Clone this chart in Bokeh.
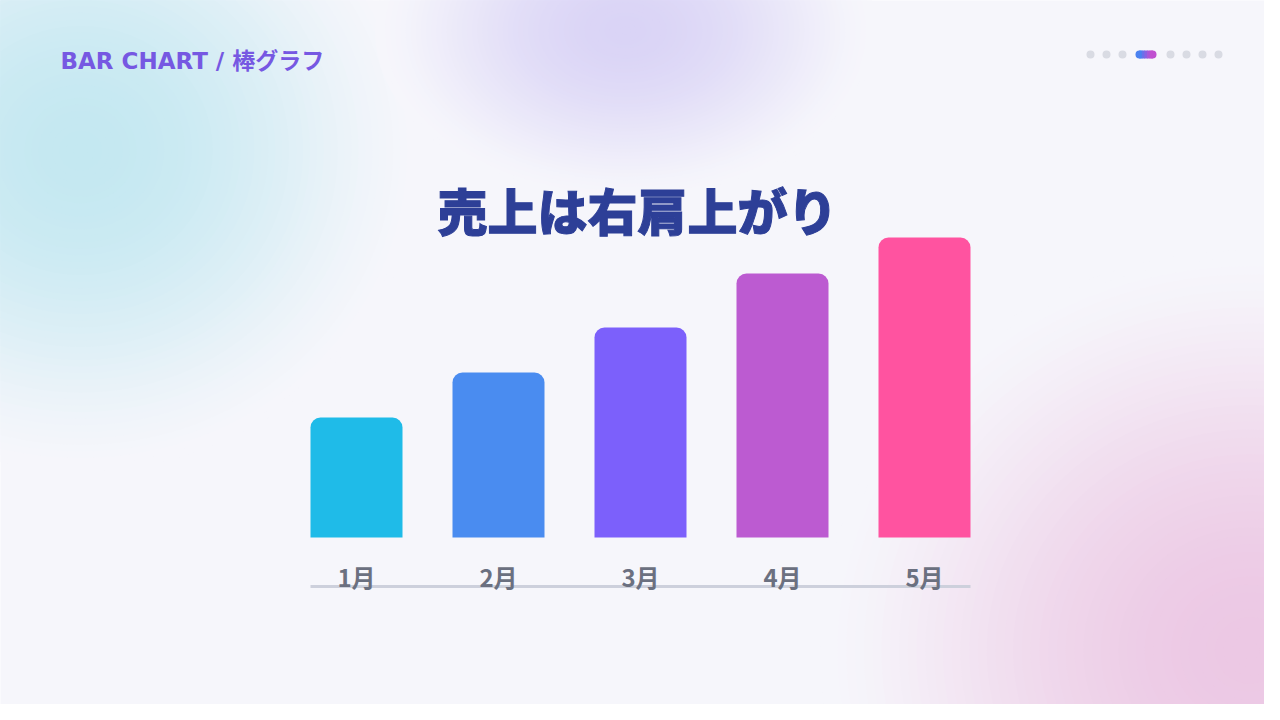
import numpy as np
from bokeh.plotting import figure
from bokeh.models import Range1d, ColumnDataSource
from bokeh.core.properties import value
from bokeh.embed import file_html
from bokeh.resources import INLINE

# ---- data ----
months = ["1月", "2月", "3月", "4月", "5月"]
sales = [40, 55, 70, 88, 100]
bar_colors = ["#1fbbe8", "#4a8cf0", "#7c60fb", "#bc5bd1", "#ff53a0"]
header_text = "BAR CHART / 棒グラフ"
title_text = "売上は右肩上がり"

# ---- layout (reference px) ----
W, H = 1264, 704
X0 = 356.0      # x of first bar centre
PX_X = 142.0    # px per category
BASE = 537.0    # y of bar baseline
PX_Y = 3.0      # px per value unit
BG = (246, 246, 251)

def sx(px):
    return (px - X0) / PX_X

def sy(py):
    return (BASE - py) / PX_Y

p = figure(width=W, height=H, output_backend="svg", toolbar_location=None,
           x_range=Range1d(sx(0), sx(W)), y_range=Range1d(sy(H), sy(0)),
           x_axis_location=None, y_axis_location=None, min_border=0,
           background_fill_color="#f6f6fb", border_fill_color="#f6f6fb",
           outline_line_color=None, tools="")
p.grid.visible = False

# ---- soft background blobs (opaque concentric ellipses) ----
def blob(cx, cy, rx, ry, peak, layers=50):
    for k in range(layers):
        r = 1.0 - k / (layers - 1)     # 1 outer .. 0 inner
        f = (1 - r * r) ** 1.6
        col = tuple(int(round(BG[j] + (peak[j] - BG[j]) * f)) for j in range(3))
        p.ellipse([sx(cx)], [sy(cy)], width=2 * rx * r + 1, height=2 * ry * r + 1,
                  width_units="screen", height_units="screen",
                  fill_color="#%02x%02x%02x" % col, line_color=None)

blob(80, 150, 340, 320, (196, 232, 241))
blob(625, 30, 250, 170, (218, 212, 246))
blob(1250, 650, 430, 400, (236, 200, 228))

# ---- bars ----
idx = list(range(len(months)))
src = ColumnDataSource(dict(x=idx, top=sales, color=bar_colors, label=months))
bw = 92 / PX_X
p.vbar(x="x", top="top", bottom=0, width=bw, fill_color="color", line_color=None,
       border_radius=[10, 10, 0, 0], source=src)

# baseline rule
p.line([idx[0] - bw / 2, idx[-1] + bw / 2], [sy(586), sy(586)],
       line_color="#cdd0dc", line_width=3)

# month labels
p.text(x="x", y=0, text="label", source=src, y_offset=39,
       text_align="center", text_baseline="middle",
       text_font=value("Noto Sans CJK JP"), text_font_style="bold",
       text_font_size="24px", text_color="#6b7080")

# ---- title ----
p.text([sx(637)], [sy(208)], text=[title_text], text_align="center",
       text_baseline="middle",
       text_font=value("Noto Sans CJK JP Black, Noto Sans CJK JP"),
       text_font_style="bold", text_font_size="50px", text_color="#2d3f97",
       text_outline_color="#2d3f97")

# ---- header ----
p.text([sx(60)], [sy(60)], text=[header_text], text_align="left",
       text_baseline="middle", text_font=value("DejaVu Sans, Noto Sans CJK JP"),
       text_font_style="bold", text_font_size="23px", text_color="#7658e2")

# ---- page dots ----
dot_x = [1090, 1106, 1122, 1170, 1186, 1202, 1218]
p.scatter([sx(v) for v in dot_x], [sy(54)] * len(dot_x), size=8, marker="circle",
          fill_color="#d9dbe3", line_color=None)
# gradient pill
pill_cols = ["#4b82f0", "#6a70ea", "#8a62e2", "#a858d8", "#c050d0"]
n = len(pill_cols)
px0, px1 = 1135, 1156
p.scatter([sx(px0 + 4)], [sy(54)], size=8, marker="circle", fill_color=pill_cols[0], line_color=None)
p.scatter([sx(px1 - 4)], [sy(54)], size=8, marker="circle", fill_color=pill_cols[-1], line_color=None)
edges = np.linspace(px0 + 4, px1 - 4, n + 1)
for i, c in enumerate(pill_cols):
    p.quad(left=sx(edges[i]) - 0.002, right=sx(edges[i + 1]) + 0.002,
           bottom=sy(58), top=sy(50), fill_color=c, line_color=None)

open("out.html", "w").write(file_html(p, INLINE))
